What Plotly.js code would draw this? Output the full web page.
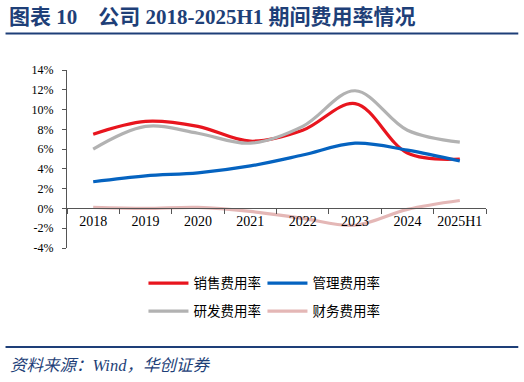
<!DOCTYPE html>
<html><head><meta charset="utf-8">
<script src="https://cdn.plot.ly/plotly-3.0.1.min.js"></script>
<style>html,body{margin:0;padding:0;background:#fff}#c{width:524px;height:382px}</style>
</head><body><div id="c"></div>
<script>
var categories = ['2018','2019','2020','2021','2022','2023','2024','2025H1'];
var salesRate = [7.5, 8.8, 8.3, 6.8, 7.9, 10.6, 5.6, 5.0];
var adminRate = [2.7, 3.3, 3.6, 4.3, 5.4, 6.6, 5.9, 4.8];
var rdRate = [6.0, 8.3, 7.6, 6.6, 8.3, 11.9, 7.9, 6.7];
var financeRate = [0.1, 0.0, 0.1, -0.3, -1.0, -1.7, -0.1, 0.8];
var seriesNames = ['销售费用率','管理费用率','研发费用率','财务费用率'];
var yTickVals = [-4,-2,0,2,4,6,8,10,12,14];
var yTickText = ['-4%','-2%','0%','2%','4%','6%','8%','10%','12%','14%'];

var L = 66.5, R = 485.7, T = 70, B = 247.7, Wd = 524, Ht = 382;
var PW = R - L, PH = B - T;
function px(x){return (x - L)/PW;}
function py(y){return (B - y)/PH;}

function tr(y, name, color, leg){
  return {x: categories, y: y, name: name, type: 'scatter', mode: 'lines',
    line: {color: color, width: 3.2, shape: 'spline', smoothing: 1},
    legend: leg, hoverinfo: 'skip'};
}
var data = [
  tr(salesRate, seriesNames[0], '#E8151E', 'legend'),
  tr(adminRate, seriesNames[1], '#0563C0', 'legend'),
  tr(rdRate, seriesNames[2], '#B2B2B2', 'legend2'),
  tr(financeRate, seriesNames[3], '#E4B7B6', 'legend2')
];
var navy = '#1E3F78';
var legFont = {family: 'Noto Sans CJK SC', size: 13.5, color: '#000'};
var layout = {
  width: Wd, height: Ht,
  margin: {l: L, r: Wd - R, t: T, b: Ht - B, pad: 0},
  paper_bgcolor: '#fff', plot_bgcolor: '#fff',
  font: {family: 'Liberation Serif, Noto Sans CJK SC', size: 13, color: '#000'},
  showlegend: true,
  xaxis: {type: 'category', range: [-0.5, 7.5], anchor: 'free', position: 4/18,
    showline: true, linecolor: '#555', linewidth: 1, ticks: 'outside', ticklen: 5,
    tickcolor: '#555', tickson: 'boundaries', showgrid: false, zeroline: false,
    tickangle: 0, automargin: false,
    tickfont: {family: 'Liberation Serif', size: 14, color: '#000'}},
  yaxis: {range: [-4, 14], tickvals: yTickVals, ticktext: yTickText, showline: true,
    linecolor: '#555', linewidth: 1, ticks: 'outside', ticklen: 4, tickcolor: '#555',
    showgrid: false, zeroline: false, ticklabelstandoff: 6, automargin: false,
    tickfont: {family: 'Liberation Serif', size: 12, color: '#000'}},
  legend: {orientation: 'h', x: px(143), y: py(283), xanchor: 'left', yanchor: 'middle',
    entrywidth: 64, entrywidthmode: 'pixels', itemwidth: 40, bgcolor: 'rgba(0,0,0,0)',
    font: legFont},
  legend2: {orientation: 'h', x: px(143), y: py(311), xanchor: 'left', yanchor: 'middle',
    entrywidth: 64, entrywidthmode: 'pixels', itemwidth: 40, bgcolor: 'rgba(0,0,0,0)',
    font: legFont},
  shapes: [
    {type: 'line', xref: 'paper', yref: 'paper', x0: px(5), x1: px(518), y0: py(33.5), y1: py(33.5),
      line: {color: navy, width: 2}},
    {type: 'line', xref: 'paper', yref: 'paper', x0: px(5), x1: px(518), y0: py(346.5), y1: py(346.5),
      line: {color: navy, width: 2}}
  ],
  annotations: [
    {xref: 'paper', yref: 'paper', x: px(6), y: py(17), xanchor: 'left', yanchor: 'middle',
      showarrow: false, text: '<b>图表 10&nbsp;&nbsp;&nbsp;&nbsp;公司 2018-2025H1 期间费用率情况</b>',
      font: {family: 'Liberation Serif, Noto Sans CJK SC', size: 21, color: navy}},
    {xref: 'paper', yref: 'paper', x: px(7), y: py(365), xanchor: 'left', yanchor: 'middle',
      showarrow: false, text: '<i>资料来源：Wind，华创证券</i>',
      font: {family: 'Liberation Serif, Noto Sans CJK SC', size: 16.5, color: navy}}
  ]
};
Plotly.newPlot('c', data, layout, {staticPlot: true, displayModeBar: false});
</script></body></html>
